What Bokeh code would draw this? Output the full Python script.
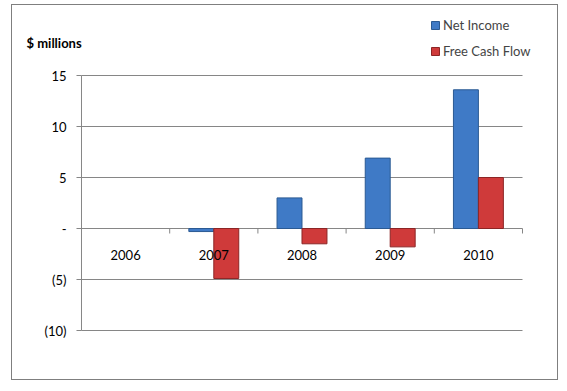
import numpy as np
from bokeh.plotting import figure
from bokeh.models import Range1d, Legend, LegendItem, ColumnDataSource
from bokeh.core.properties import value
from bokeh.embed import file_html
from bokeh.resources import INLINE

years = ["2006", "2007", "2008", "2009", "2010"]
net_income = [float("nan"), -0.3, 3.0, 6.9, 13.6]
free_cash_flow = [float("nan"), -4.9, -1.5, -1.8, 5.0]
y_ticks = [-10, -5, 0, 5, 10, 15]
y_tick_labels = ["(10)", "(5)", "-", "5", "10", "15"]
series_names = ["Net Income", "Free Cash Flow"]
y_title = "$ millions"

FONT = "Lato"
GRAY = "#868686"
BLUE, BLUE_EDGE = "#3f7ac6", "#2b5a93"
RED, RED_EDGE = "#cf3a3a", "#8c2525"

n = len(years)
centers = np.arange(n) + 0.5
bw = 0.283
y_lo, y_hi = min(y_ticks), max(y_ticks)

# frame covers the whole canvas; ranges padded so the plot area sits where the reference has it
p = figure(width=547, height=376,
           x_range=Range1d(-0.7823, n + 0.4195), y_range=Range1d(-15.0, 21.863),
           x_axis_type=None, y_axis_type=None, min_border=0,
           output_backend="svg", toolbar_location=None)
p.outline_line_color = None
p.grid.visible = False
p.styles = {"border": "1px solid #7f7f7f", "margin-left": "11px", "margin-top": "4px"}

# horizontal gridlines across the category area
p.segment(x0=[0] * len(y_ticks), y0=y_ticks, x1=[n] * len(y_ticks), y1=y_ticks,
          line_color=GRAY, line_width=1)
# value axis line, ticks and labels
p.segment(x0=[0], y0=[y_lo], x1=[0], y1=[y_hi], line_color=GRAY, line_width=1)
p.ray(x=[0] * len(y_ticks), y=y_ticks, length=5, angle=np.pi, length_units="screen",
      line_color=GRAY, line_width=1)
p.text(x=[0] * len(y_ticks), y=y_ticks, text=y_tick_labels, x_offset=-15,
       text_align="right", text_baseline="middle", text_font=value(FONT),
       text_font_size="13px", text_color="#000000")
# axis title
p.text(x=[0], y=[y_hi], text=[y_title], x_offset=-55, y_offset=-33,
       text_align="left", text_baseline="middle", text_font=value(FONT),
       text_font_size="13px", text_font_style="bold", text_color="#000000")

# bars
r1 = p.vbar(x=centers - bw / 2, top=net_income, bottom=0, width=bw,
            fill_color=BLUE, line_color=BLUE_EDGE, line_width=1)
r2 = p.vbar(x=centers + bw / 2, top=free_cash_flow, bottom=0, width=bw,
            fill_color=RED, line_color=RED_EDGE, line_width=1)

# category tick marks on the zero line and category labels
p.ray(x=list(np.arange(1, n + 1)), y=0, length=5, angle=-np.pi / 2,
      length_units="screen", line_color=GRAY, line_width=1)
src = ColumnDataSource(dict(x=centers, years=years, y=[0] * n))
p.text(x="x", y="y", text="years", source=src, y_offset=26, text_align="center",
       text_baseline="middle", text_font=value(FONT), text_font_size="13px",
       text_color="#000000")

legend = Legend(items=[LegendItem(label=series_names[0], renderers=[r1]),
                       LegendItem(label=series_names[1], renderers=[r2])],
                location=(418, 322), border_line_color=None, background_fill_alpha=0,
                padding=0, margin=0, spacing=10, label_height=16, glyph_height=10,
                glyph_width=10, label_standoff=3, label_text_font=FONT,
                label_text_font_size="13px")
p.add_layout(legend)

open("out.html", "w").write(file_html(p, INLINE))
